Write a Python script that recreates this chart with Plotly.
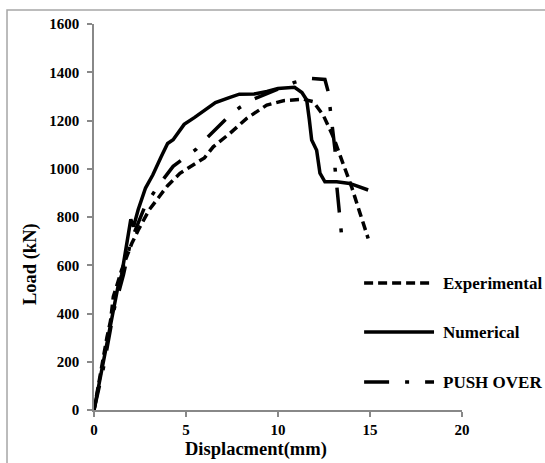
import plotly.graph_objects as go

# ---- data ----
exp_x = [0, 0.25, 0.5, 0.7, 0.9, 1.05, 1.3, 1.5, 1.8, 2.05, 2.4, 3.0, 3.5, 4.0, 4.67, 5.4, 6.0,
         6.48, 7.39, 8.3, 9.39, 10.29, 11.38, 11.92, 12.46, 13.0, 13.55, 14.0, 14.46, 14.9]
exp_y = [0, 110, 230, 300, 370, 470, 530, 580, 640, 690, 745, 830, 880, 930, 981, 1015, 1045,
         1091, 1147, 1209, 1264, 1282, 1288, 1278, 1222, 1133, 1022, 925, 815, 711]

num_x = [0, 0.5, 1.0, 1.3, 1.5, 1.75, 2.0, 2.15, 2.4, 2.8, 3.2, 3.65, 4.0, 4.3, 4.9, 5.45, 6.0,
         6.6, 7.35, 7.9, 8.7, 9.4, 10.0, 10.9, 11.3, 11.56, 11.7, 11.83, 12.1, 12.28, 12.55,
         13.19, 13.9, 14.9]
num_y = [0, 190, 390, 510, 560, 680, 790, 760, 830, 920, 975, 1050, 1105, 1120, 1184, 1212, 1240,
         1274, 1295, 1309, 1310, 1320, 1333, 1338, 1316, 1285, 1205, 1119, 1077, 982, 946,
         946, 939, 912]

push_x = [0, 0.5, 1.1, 1.6, 2.0, 2.3, 2.8, 3.5, 4.3, 5.0, 5.54, 6.12, 7.21, 7.9, 8.57, 10.1,
          10.89, 11.74, 12.55, 12.73, 12.83, 12.92, 13.1, 13.1, 13.19, 13.33, 13.42, 13.5]
push_y = [0, 170, 420, 560, 700, 760, 850, 930, 1010, 1050, 1080, 1126, 1209, 1253, 1285, 1333,
          1358, 1375, 1370, 1319, 1250, 1181, 1077, 1002, 940, 815, 753, 684]

names = ["Experimental", "Numerical", "PUSH OVER"]
x_ticks = [0, 5, 10, 15, 20]
y_ticks = [0, 200, 400, 600, 800, 1000, 1200, 1400, 1600]

styles = ["9px,5px", "solid", "25px,16px,4px,16px"]
FONT = "Liberation Serif"

fig = go.Figure()
for xs, ys, nm, st in zip([exp_x, num_x, push_x], [exp_y, num_y, push_y], names, styles):
    fig.add_trace(go.Scatter(x=xs, y=ys, mode="lines", name=nm, showlegend=False,
                             line=dict(color="black", width=3.5, dash=st)))

# manual legend (paper coords)
leg_y = [0.329, 0.202, 0.0725]
for nm, st, yy in zip(names, styles, leg_y):
    fig.add_shape(type="line", xref="paper", yref="paper", x0=0.734, x1=0.924, y0=yy, y1=yy,
                  line=dict(color="black", width=3.5, dash=st))
    fig.add_annotation(xref="paper", yref="paper", x=0.943, y=yy, text=nm, showarrow=False,
                       xanchor="left", yanchor="middle",
                       font=dict(family=FONT, size=17, color="black", weight="bold"))

# axis titles
fig.add_annotation(xref="paper", yref="paper", x=0.44, y=-0.1036, text="Displacment(mm)",
                   showarrow=False, xanchor="center", yanchor="middle",
                   font=dict(family=FONT, size=18.5, color="black", weight="bold"))
fig.add_annotation(xref="paper", yref="paper", x=-0.174, y=0.378, text="Load (kN)",
                   showarrow=False, textangle=-90, xanchor="center", yanchor="middle",
                   font=dict(family=FONT, size=18.5, color="black", weight="bold"))

# outer border
fig.add_shape(type="rect", xref="paper", yref="paper", x0=-0.2364, x1=1.24, y0=-0.16, y1=1.036,
              line=dict(color="#a6a6a6", width=1.5), fillcolor="rgba(0,0,0,0)", layer="below")

axis_common = dict(showgrid=False, zeroline=False, showline=True, linecolor="#888888",
                   linewidth=1.5, ticks="outside", ticklen=5, tickcolor="#888888", tickwidth=1.5,
                   tickfont=dict(family=FONT, size=15, color="black", weight="bold"))

fig.update_layout(
    width=545, height=463,
    margin=dict(l=94, r=83, t=24, b=53),
    paper_bgcolor="white", plot_bgcolor="white",
    xaxis=dict(range=[0, 20], tickvals=x_ticks, **axis_common),
    yaxis=dict(range=[0, 1600], tickvals=y_ticks, ticklabelstandoff=5, **axis_common),
)

fig.write_html("out.html")
